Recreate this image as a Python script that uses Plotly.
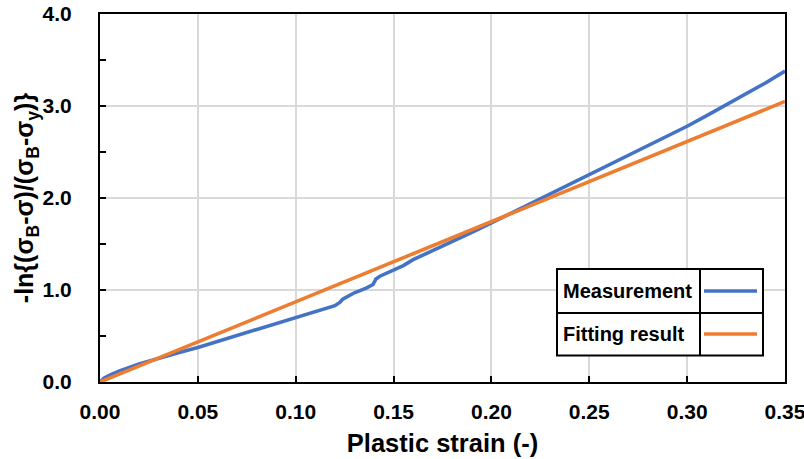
import plotly.graph_objects as go

# Data
meas_x = [0.0, 0.002, 0.005, 0.01, 0.02, 0.03, 0.04, 0.05, 0.06, 0.07, 0.08, 0.09,
          0.10, 0.11, 0.12, 0.1225, 0.124, 0.13, 0.136, 0.1395, 0.141, 0.143, 0.15,
          0.155, 0.16, 0.17, 0.18, 0.19, 0.20, 0.21, 0.22, 0.23, 0.24, 0.25, 0.26,
          0.27, 0.28, 0.29, 0.30, 0.31, 0.32, 0.33, 0.34, 0.35]
meas_y = [0.0, 0.04, 0.075, 0.12, 0.195, 0.26, 0.318, 0.375, 0.44, 0.50, 0.565, 0.63,
          0.695, 0.76, 0.83, 0.865, 0.90, 0.97, 1.02, 1.06, 1.12, 1.15, 1.22,
          1.265, 1.33, 1.425, 1.525, 1.625, 1.73, 1.835, 1.94, 2.04, 2.14, 2.245, 2.35,
          2.455, 2.56, 2.67, 2.78, 2.895, 3.01, 3.13, 3.25, 3.38]
fit_x = [0.0, 0.35]
fit_y = [0.0, 3.05]

series_names = ["Measurement", "Fitting result"]
series_colors = ["#4472C4", "#ED7D31"]

x_ticks = [0.00, 0.05, 0.10, 0.15, 0.20, 0.25, 0.30, 0.35]
y_ticks = [0.0, 1.0, 2.0, 3.0, 4.0]

FONT = "Arial, 'Liberation Sans', sans-serif"
W, H = 804, 459
L, R, T, B = 100, 19, 14, 77
PW, PH = W - L - R, H - T - B


def px(x):
    return (x - L) / PW


def py(y):
    return (H - B - y) / PH


fig = go.Figure()
fig.add_trace(go.Scatter(x=meas_x, y=meas_y, mode="lines", name=series_names[0],
                         line=dict(color=series_colors[0], width=3.6)))
fig.add_trace(go.Scatter(x=fit_x, y=fit_y, mode="lines", name=series_names[1],
                         line=dict(color=series_colors[1], width=3.6)))

fig.update_layout(
    width=W, height=H,
    margin=dict(l=L, r=R, t=T, b=B, autoexpand=False),
    paper_bgcolor="white", plot_bgcolor="white",
    showlegend=False,
    font=dict(family=FONT, color="black"),
)
fig.update_xaxes(
    range=[0, 0.35], tickvals=x_ticks, ticktext=[f"{v:.2f}" for v in x_ticks],
    showgrid=True, gridcolor="#d9d9d9", gridwidth=1.5,
    showline=True, linecolor="black", linewidth=2, mirror=True,
    ticks="inside", ticklen=6, tickwidth=2, tickcolor="black",
    ticklabelstandoff=10, ticklabeloverflow="allow", automargin=False,
    tickfont=dict(size=21, family=FONT, color="black", weight="bold"),
    title=dict(text="<b>Plastic strain (-)</b>", font=dict(size=25.5, family=FONT), standoff=12),
    zeroline=False,
)
fig.update_yaxes(
    range=[0, 4.0], tickvals=y_ticks, ticktext=[f"{v:.1f}" for v in y_ticks],
    showgrid=True, gridcolor="#d9d9d9", gridwidth=1.5,
    showline=True, linecolor="black", linewidth=2, mirror=True,
    ticks="inside", ticklen=6, tickwidth=2, tickcolor="black",
    minor=dict(tickvals=[0.5, 1.5, 2.5, 3.5], ticks="inside", ticklen=6, tickwidth=2,
               tickcolor="black", showgrid=False),
    ticklabelstandoff=22, ticklabeloverflow="allow", automargin=False,
    tickfont=dict(size=21, family=FONT, color="black", weight="bold"),
    title=dict(text="<b>-ln{(σ<sub>B</sub>-σ)/(σ<sub>B</sub>-σ<sub>y</sub>)}</b>",
               font=dict(size=25, family=FONT), standoff=1),
    zeroline=False,
)

# Table-style legend
bx0, bx1, by0, by1 = 557, 763, 269, 355.5
divx, divy = 700, 313
fig.add_shape(type="rect", xref="paper", yref="paper",
              x0=px(bx0), x1=px(bx1), y0=py(by1), y1=py(by0),
              line=dict(color="black", width=2), fillcolor="white", layer="above")
fig.add_shape(type="line", xref="paper", yref="paper",
              x0=px(divx), x1=px(divx), y0=py(by1), y1=py(by0),
              line=dict(color="black", width=2))
fig.add_shape(type="line", xref="paper", yref="paper",
              x0=px(bx0), x1=px(bx1), y0=py(divy), y1=py(divy),
              line=dict(color="black", width=2))
rows_y = [291, 334]
for name, color, ry in zip(series_names, series_colors, rows_y):
    fig.add_shape(type="line", xref="paper", yref="paper",
                  x0=px(704), x1=px(757), y0=py(ry), y1=py(ry),
                  line=dict(color=color, width=3.6))
    fig.add_annotation(xref="paper", yref="paper", x=px(561), y=py(ry),
                       xanchor="left", yanchor="middle", showarrow=False,
                       text=f"<b>{name}</b>",
                       font=dict(size=20, family=FONT, color="black"))

fig.write_html("out.html")
